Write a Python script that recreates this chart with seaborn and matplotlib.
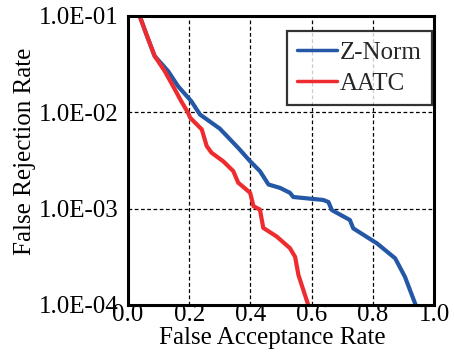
import numpy as np
import pandas as pd
import seaborn as sns
import matplotlib
matplotlib.use("Agg")
import matplotlib.pyplot as plt
from matplotlib.ticker import FuncFormatter, FixedLocator, NullLocator

# DET curves: false acceptance rate vs false rejection rate
znorm_far = [0.038, 0.060, 0.087, 0.131, 0.163, 0.207, 0.235, 0.300, 0.360, 0.399,
             0.431, 0.459, 0.497, 0.529, 0.540, 0.638, 0.655, 0.666, 0.725, 0.736,
             0.813, 0.873, 0.905, 0.940]
znorm_frr = [1.00e-1, 6.43e-2, 3.83e-2, 2.67e-2, 1.87e-2, 1.30e-2, 9.48e-3, 6.76e-3,
             4.27e-3, 3.10e-3, 2.45e-3, 1.78e-3, 1.64e-3, 1.46e-3, 1.32e-3, 1.23e-3,
             1.17e-3, 9.66e-4, 7.62e-4, 6.24e-4, 4.37e-4, 3.05e-4, 1.96e-4, 1.00e-4]

aatc_far = [0.038, 0.060, 0.087, 0.120, 0.147, 0.174, 0.196, 0.203, 0.241, 0.257,
            0.273, 0.311, 0.344, 0.360, 0.399, 0.410, 0.431, 0.442, 0.486, 0.529,
            0.546, 0.557, 0.589]
aatc_frr = [1.00e-1, 6.43e-2, 3.83e-2, 2.67e-2, 1.87e-2, 1.30e-2, 9.89e-3, 8.77e-3,
            6.64e-3, 4.47e-3, 3.80e-3, 3.10e-3, 2.45e-3, 1.86e-3, 1.46e-3, 1.06e-3,
            9.77e-4, 6.31e-4, 5.13e-4, 3.89e-4, 3.16e-4, 2.04e-4, 1.00e-4]

series_names = ["Z-Norm", "AATC"]
series_colors = ["#2457A6", "#EE2B2E"]

x_ticks = [0.0, 0.2, 0.4, 0.6, 0.8, 1.0]
y_ticks = [1e-4, 1e-3, 1e-2, 1e-1]

df = pd.concat([
    pd.DataFrame({"FAR": znorm_far, "FRR": znorm_frr, "method": series_names[0]}),
    pd.DataFrame({"FAR": aatc_far, "FRR": aatc_frr, "method": series_names[1]}),
], ignore_index=True)

sns.set_theme(style="white")
plt.rcParams["font.family"] = ["Liberation Serif", "DejaVu Serif"]

fig = plt.figure(figsize=(4.54, 3.53), dpi=100)
ax = fig.add_axes([0.282, 0.136, 0.674, 0.819])

sns.lineplot(data=df, x="FAR", y="FRR", hue="method", hue_order=series_names,
             palette=series_colors, sort=False, estimator=None, linewidth=3.0,
             ax=ax)

ax.set_yscale("log")
ax.set_xlim(0.0, 1.0)
ax.set_ylim(1e-4, 1e-1)

ax.xaxis.set_major_locator(FixedLocator(x_ticks))
ax.yaxis.set_major_locator(FixedLocator(y_ticks))
ax.yaxis.set_minor_locator(NullLocator())
ax.xaxis.set_major_formatter(FuncFormatter(lambda v, p: f"{v:.1f}"))
ax.yaxis.set_major_formatter(FuncFormatter(lambda v, p: f"{v:.1E}"))

ax.grid(True, which="major", color="black", linestyle=(0, (3, 2)), linewidth=0.9)
for s in ax.spines.values():
    s.set_color("black")
    s.set_linewidth(2.2)

ax.tick_params(axis="both", which="major", direction="in", length=5, width=2,
               color="black", labelsize=18, labelcolor="black")
ax.tick_params(axis="x", pad=-1)
ax.tick_params(axis="y", pad=7, length=6)

ax.set_xlabel("False Acceptance Rate", fontsize=18, color="black")
ax.set_ylabel("False Rejection Rate", fontsize=18, color="black")
ax.xaxis.set_label_coords(0.47, -0.075)
ax.yaxis.set_label_coords(-0.30, 0.53)

leg = ax.legend(loc="upper right", bbox_to_anchor=(0.992, 0.946), borderaxespad=0,
                fontsize=18, frameon=True, fancybox=False, handlelength=1.6,
                handletextpad=0.1, labelspacing=0.35, borderpad=0.4)
leg.get_frame().set_edgecolor("black")
leg.get_frame().set_linewidth(1.6)
for line in leg.get_lines():
    line.set_linewidth(2.5)

fig.savefig("out.png", dpi=100)
